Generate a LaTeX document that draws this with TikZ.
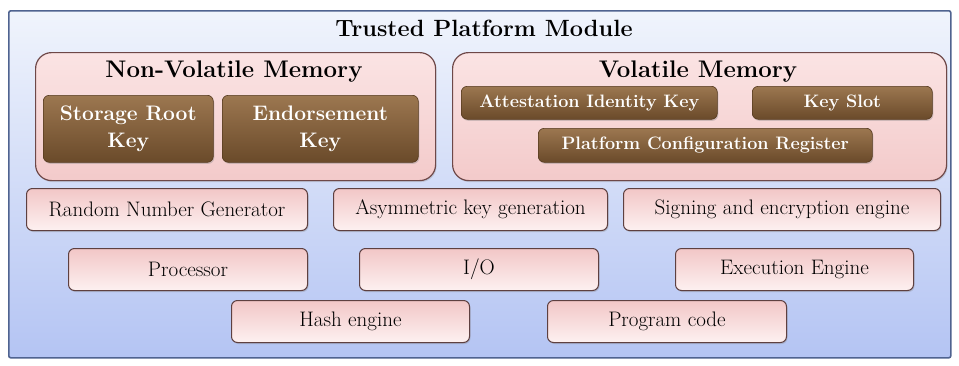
\documentclass[tikz,border=0pt]{standalone}
\usetikzlibrary{shadows}
\definecolor{frameline}{HTML}{4F6390}
\definecolor{frametop}{HTML}{F0F4FC}
\definecolor{framebot}{HTML}{B4C4F3}
\definecolor{memline}{HTML}{6E4848}
\definecolor{memtop}{HTML}{FBE4E4}
\definecolor{membot}{HTML}{F3CACA}
\definecolor{browntop}{HTML}{9C7750}
\definecolor{brownbot}{HTML}{6A4A2A}
\definecolor{brownline}{HTML}{55391E}
\definecolor{pinktop}{HTML}{F2C6C6}
\definecolor{pinkbot}{HTML}{FDF1F1}
\definecolor{pinkline}{HTML}{5E4040}
\tikzset{
  frame/.style={draw=frameline, line width=1.6pt, top color=frametop, bottom color=framebot, rounded corners=2pt},
  membox/.style={draw=memline, line width=1.2pt, top color=memtop, bottom color=membot, rounded corners=16pt,
    drop shadow={opacity=0.25, shadow xshift=1pt, shadow yshift=-1.5pt}},
  keybox/.style={draw=brownline, line width=0.6pt, top color=browntop, bottom color=brownbot, rounded corners=6pt,
    text=white, font=\fontsize{21}{27}\selectfont\bfseries, align=center, inner sep=0pt,
    drop shadow={opacity=0.35, shadow xshift=1pt, shadow yshift=-1.5pt}},
  smallkey/.style={keybox, font=\fontsize{18}{20}\selectfont\bfseries},
  unitbox/.style={draw=pinkline, line width=1pt, top color=pinktop, bottom color=pinkbot, rounded corners=6pt,
    font=\fontsize{21}{23}\selectfont, inner sep=0pt,
    drop shadow={opacity=0.3, shadow xshift=1pt, shadow yshift=-1.5pt}},
  heading/.style={font=\fontsize{24}{26}\selectfont\bfseries, inner sep=0pt},
  bigheading/.style={font=\fontsize{23.5}{26}\selectfont\bfseries, inner sep=0pt}
}
\begin{document}
\begin{tikzpicture}[x=1pt,y=-1pt]
\useasboundingbox[fill=white] (0,0) rectangle (959,365);
% outer frame
\node (tpm) [frame, minimum width=942pt, minimum height=347pt, anchor=north west] at (8,10) {};
\node (title) [bigheading] at (484,28) {Trusted Platform Module};
% non-volatile memory
\node (nvm) [membox, minimum width=400pt, minimum height=128pt, anchor=north west] at (35,52) {};
\node (nvmt) [heading] at (234,72) {Non-Volatile Memory};
\node (srk) [keybox, minimum width=170pt, minimum height=67pt, anchor=north west] at (43,95) {Storage Root\\Key};
\node (ek) [keybox, minimum width=196pt, minimum height=67pt, anchor=north west] at (222,95) {Endorsement\\Key};
% volatile memory
\node (vm) [membox, minimum width=494pt, minimum height=128pt, anchor=north west] at (452,52) {};
\node (vmt) [heading] at (698,72) {Volatile Memory};
\node (aik) [smallkey, minimum width=256pt, minimum height=33pt, anchor=north west] at (461,86) {Attestation Identity Key};
\node (ks) [smallkey, minimum width=180pt, minimum height=33pt, anchor=north west] at (752,86) {Key Slot};
\node (pcr) [smallkey, minimum width=334pt, minimum height=34pt, anchor=north west] at (538,128) {Platform Configuration Register};
% functional units
\node (rng) [unitbox, minimum width=281pt, minimum height=42pt, anchor=north west] at (26,188) {Random Number Generator};
\node (akg) [unitbox, minimum width=274pt, minimum height=42pt, anchor=north west] at (333,188) {Asymmetric key generation};
\node (see) [unitbox, minimum width=317pt, minimum height=42pt, anchor=north west] at (623,188) {Signing and encryption engine};
\node (proc) [unitbox, minimum width=239pt, minimum height=42pt, anchor=north west] at (68,248) {Processor};
\node (io) [unitbox, minimum width=239pt, minimum height=42pt, anchor=north west] at (359,248) {I/O};
\node (exe) [unitbox, minimum width=238pt, minimum height=42pt, anchor=north west] at (675,248) {Execution Engine};
\node (hash) [unitbox, minimum width=238pt, minimum height=42pt, anchor=north west] at (231,300) {Hash engine};
\node (prog) [unitbox, minimum width=239pt, minimum height=42pt, anchor=north west] at (547,300) {Program code};
\end{tikzpicture}
\end{document}
